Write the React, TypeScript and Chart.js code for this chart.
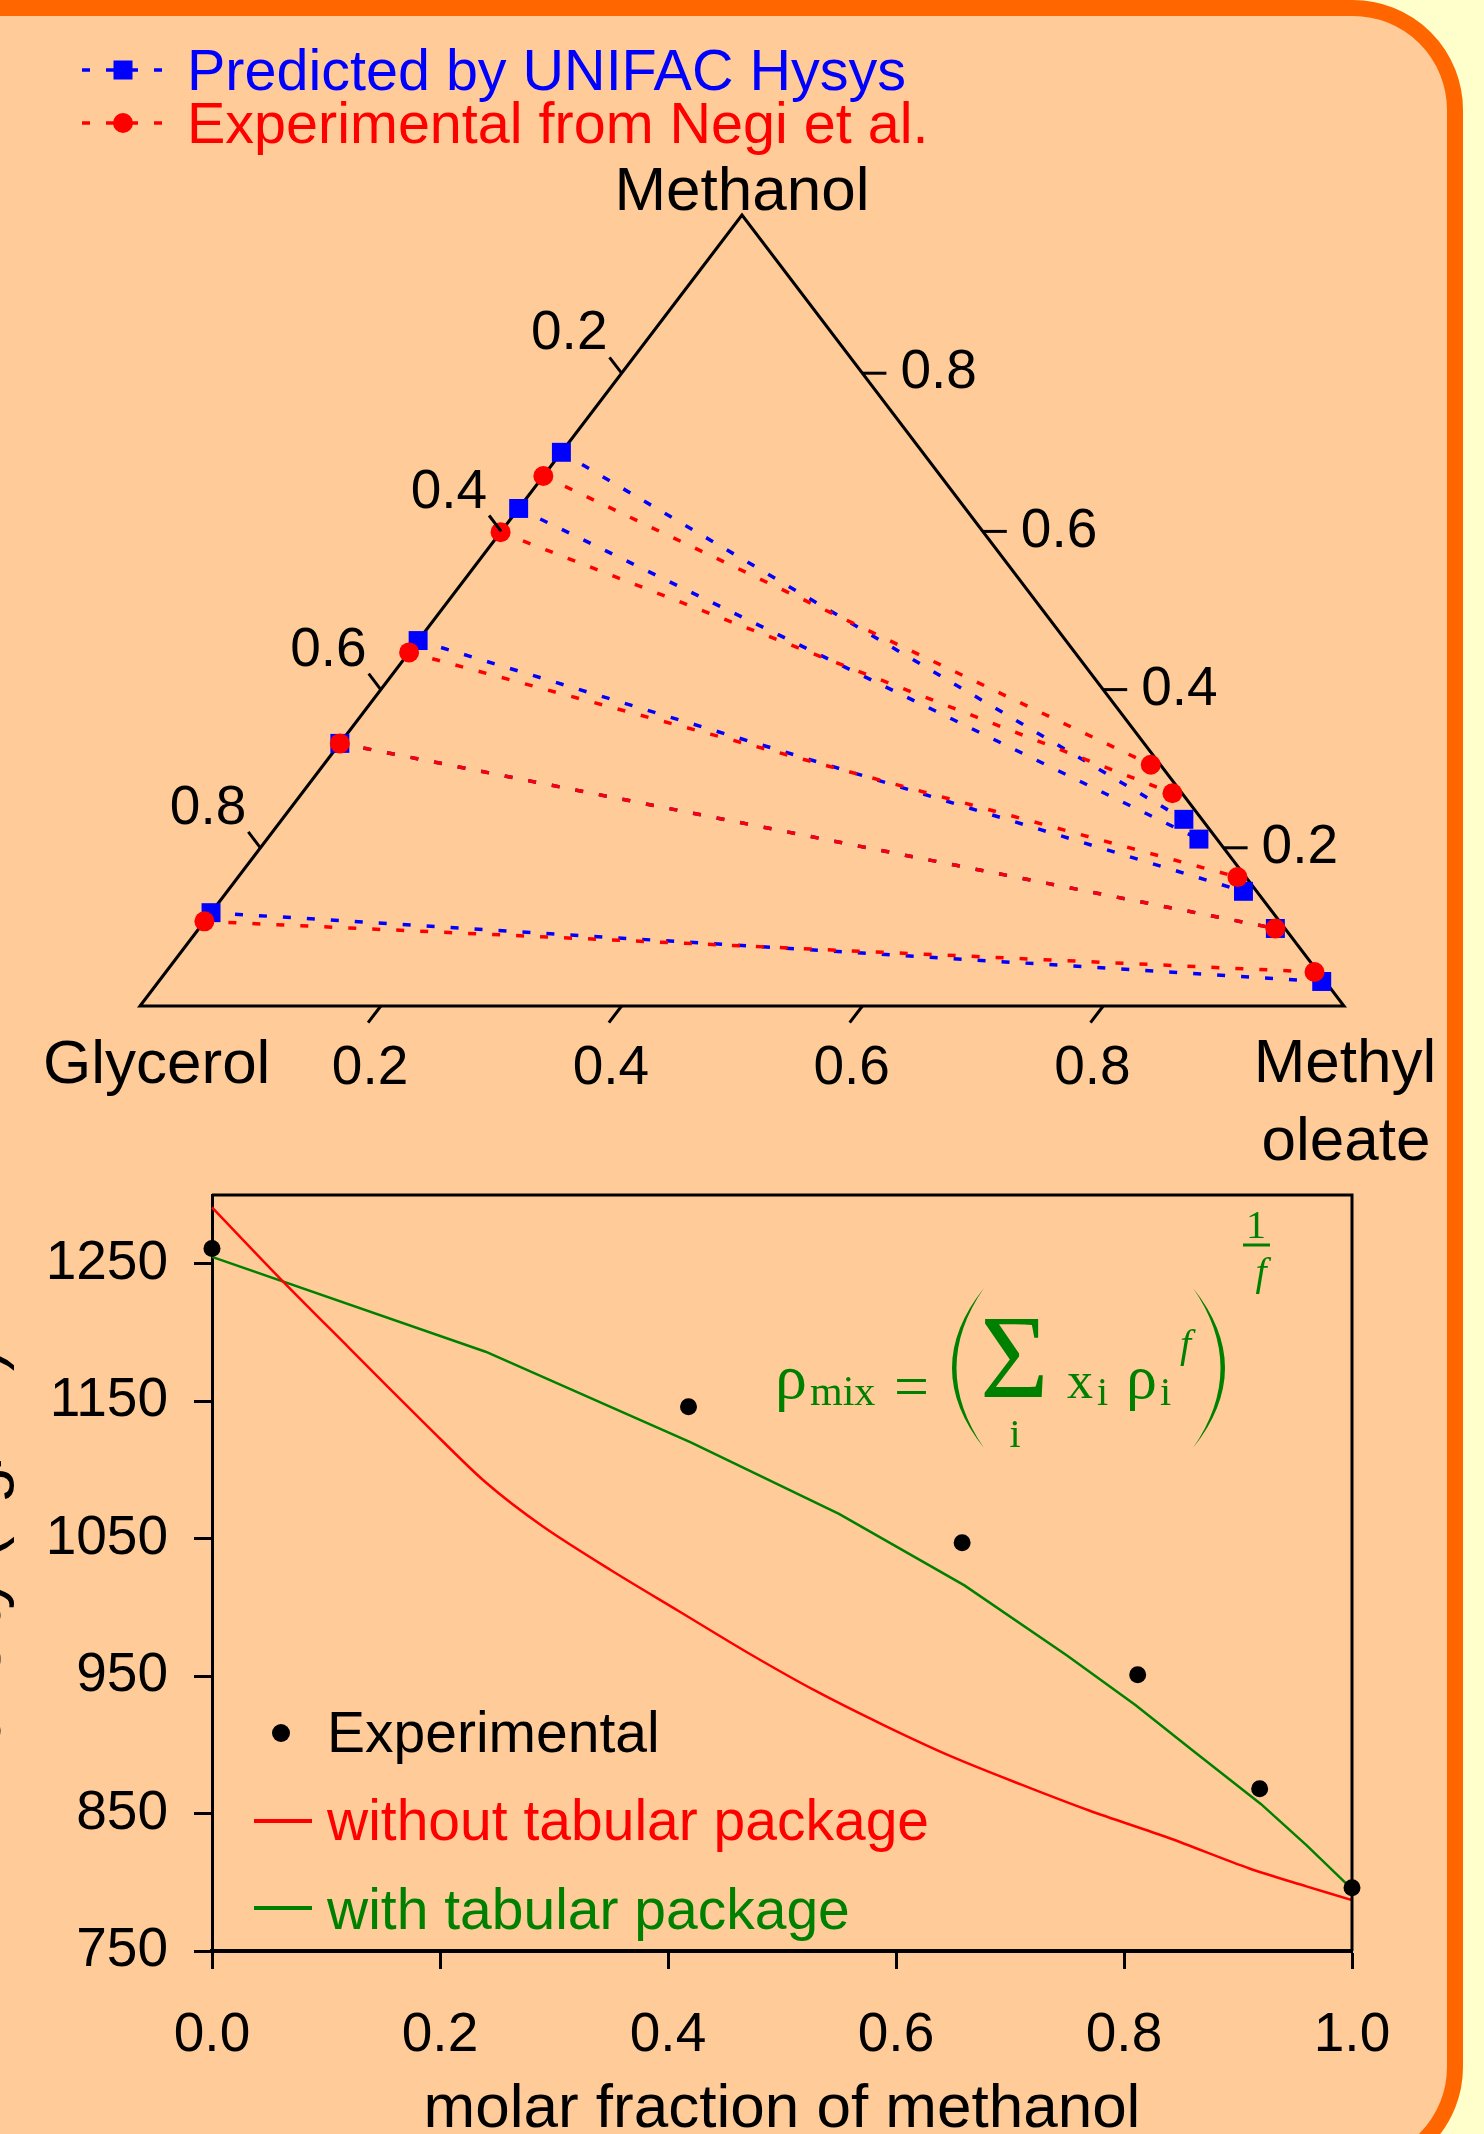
import React, { useEffect, useRef } from "react";
import { Chart, registerables } from "chart.js";

Chart.register(...registerables);

const SANS = '"Liberation Sans", Arial, Helvetica, sans-serif';
const SERIF = '"Liberation Serif", "Times New Roman", Times, serif';
const BLUE = "#0000FF";
const RED = "#FF0000";
const GREEN = "#008000";

// ---------- Ternary data (mole fractions; glycerol = 1 - methanol - methyl oleate) ----------
const hysysGlyPhaseMethanol = [0.7, 0.629, 0.462, 0.332, 0.118];
const hysysGlyPhaseOleate = [0, 0, 0, 0, 0];
const hysysEsterPhaseMethanol = [0.236, 0.211, 0.145, 0.098, 0.031];
const hysysEsterPhaseOleate = [0.749, 0.774, 0.844, 0.894, 0.966];

const negiGlyPhaseMethanol = [0.67, 0.599, 0.447, 0.332, 0.107];
const negiGlyPhaseOleate = [0, 0, 0, 0, 0];
const negiEsterPhaseMethanol = [0.305, 0.269, 0.163, 0.098, 0.043];
const negiEsterPhaseOleate = [0.687, 0.723, 0.83, 0.894, 0.954];

const ternaryTicks = [0.2, 0.4, 0.6, 0.8];
const ternaryLabels = ["Methanol", "Glycerol", "Methyl", "oleate"];
const ternarySeries = ["Predicted by UNIFAC Hysys", "Experimental from Negi et al."];

// ---------- Density data ----------
const expMethanol = [0, 0.418, 0.658, 0.812, 0.919, 1.0];
const expDensity = [1261, 1146, 1047, 951, 868, 796];

const noTabMethanol = [0, 0.06, 0.12, 0.19, 0.24, 0.29, 0.35, 0.41, 0.47, 0.53, 0.59, 0.65, 0.71, 0.77, 0.84, 0.91, 0.96, 1.0];
const noTabDensity = [1291, 1239, 1189, 1131, 1091, 1059, 1027, 997, 967, 939, 914, 891, 871, 852, 832, 810, 797, 787];

const tabMethanol = [0, 0.24, 0.42, 0.55, 0.66, 0.75, 0.81, 0.86, 0.92, 0.96, 1.0];
const tabDensity = [1255, 1186, 1120, 1068, 1016, 965, 929, 896, 857, 827, 795];

const densityTicks = [750, 850, 950, 1050, 1150, 1250];
const fractionTicks = [0, 0.2, 0.4, 0.6, 0.8, 1.0];
const densitySeries = ["Experimental", "without tabular package", "with tabular package"];

// ternary -> cartesian (x along bottom edge, y = methanol height)
const cart = (m: number, o: number) => ({ x: o + m / 2, y: m });

function tieDatasets(gM: number[], gO: number[], eM: number[], eO: number[], color: string, style: string, radius: number) {
  return gM.map((_, i) => ({
    data: [cart(gM[i], gO[i]), cart(eM[i], eO[i])],
    showLine: true,
    borderColor: color,
    borderWidth: 3.5,
    borderDash: [8, 16],
    pointStyle: style,
    pointRadius: radius,
    pointBackgroundColor: color,
    pointBorderWidth: 0,
    clip: false,
  }));
}

const ternaryDecor = {
  id: "ternaryDecor",
  afterDatasetsDraw(chart: any) {
    const ctx = chart.ctx;
    const xs = chart.scales.x;
    const ys = chart.scales.y;
    const P = (m: number, o: number) => ({ x: xs.getPixelForValue(o + m / 2), y: ys.getPixelForValue(m) });
    const A = P(1, 0);
    const G = P(0, 0);
    const O = P(0, 1);
    const unit = (a: any, b: any) => {
      const dx = b.x - a.x, dy = b.y - a.y, l = Math.hypot(dx, dy);
      return { x: dx / l, y: dy / l };
    };
    const upLeft = unit(O, A);
    const toRight = unit(G, O);
    const downLeft = unit(A, G);
    const seg = (p: any, e: any) => {
      ctx.beginPath();
      ctx.moveTo(p.x, p.y);
      ctx.lineTo(e.x, e.y);
      ctx.stroke();
    };
    ctx.save();
    ctx.strokeStyle = "#000";
    ctx.fillStyle = "#000";
    ctx.lineWidth = 3;
    ctx.setLineDash([]);
    ctx.font = `55px ${SANS}`;
    ternaryTicks.forEach((t) => {
      const lbl = t.toFixed(1);
      // left edge: glycerol fraction
      let p = P(1 - t, 0);
      let e = { x: p.x + upLeft.x * 20, y: p.y + upLeft.y * 20 };
      seg(p, e);
      ctx.textAlign = "right";
      ctx.textBaseline = "middle";
      ctx.fillText(lbl, e.x - 2, e.y - 23);
      // right edge: methanol fraction
      p = P(t, 1 - t);
      e = { x: p.x + toRight.x * 24, y: p.y + toRight.y * 24 };
      seg(p, e);
      ctx.textAlign = "left";
      ctx.fillText(lbl, e.x + 14, e.y);
      // bottom edge: methyl oleate fraction
      p = P(0, t);
      e = { x: p.x + downLeft.x * 21, y: p.y + downLeft.y * 21 };
      seg(p, e);
      ctx.textAlign = "center";
      ctx.fillText(lbl, e.x + 2, e.y + 46);
    });

    ctx.font = `62px ${SANS}`;
    ctx.textBaseline = "alphabetic";
    ctx.textAlign = "center";
    ctx.fillText(ternaryLabels[0], A.x, A.y - 5);
    ctx.textAlign = "left";
    ctx.fillText(ternaryLabels[1], G.x - 97, G.y + 77);
    ctx.textAlign = "center";
    ctx.fillText(ternaryLabels[2], O.x + 1, O.y + 76);
    ctx.fillText(ternaryLabels[3], O.x + 2, O.y + 154);

    // legend
    const rows = [
      { label: ternarySeries[0], color: BLUE, square: true, y: 70 },
      { label: ternarySeries[1], color: RED, square: false, y: 123 },
    ];
    rows.forEach((r) => {
      ctx.strokeStyle = r.color;
      ctx.fillStyle = r.color;
      ctx.lineWidth = 3.5;
      ctx.setLineDash([8, 16]);
      ctx.beginPath();
      ctx.moveTo(82, r.y);
      ctx.lineTo(162, r.y);
      ctx.stroke();
      ctx.setLineDash([]);
      if (r.square) {
        ctx.fillRect(123 - 9.5, r.y - 9.5, 19, 19);
      } else {
        ctx.beginPath();
        ctx.arc(123, r.y, 10, 0, Math.PI * 2);
        ctx.fill();
      }
      ctx.font = `57.5px ${SANS}`;
      ctx.textAlign = "left";
      ctx.textBaseline = "alphabetic";
      ctx.fillText(r.label, 187, r.y + 19.5);
    });
    ctx.restore();
  },
};

function paren(ctx: any, x0: number, y0: number, y1: number, dir: number) {
  // dir = -1 for left paren (bulges left), +1 for right paren
  const ym = (y0 + y1) / 2;
  ctx.beginPath();
  ctx.moveTo(x0, y0);
  ctx.quadraticCurveTo(x0 + dir * 64, ym, x0, y1);
  ctx.quadraticCurveTo(x0 + dir * 55, ym, x0, y0);
  ctx.closePath();
  ctx.fill();
}

const densityDecor = {
  id: "densityDecor",
  afterDraw(chart: any) {
    const ctx = chart.ctx;
    const a = chart.chartArea;
    ctx.save();
    // frame top & right
    ctx.strokeStyle = "#000";
    ctx.lineWidth = 3;
    ctx.beginPath();
    ctx.moveTo(a.left, a.top);
    ctx.lineTo(a.right, a.top);
    ctx.lineTo(a.right, a.bottom);
    ctx.stroke();

    // legend
    ctx.font = `57px ${SANS}`;
    ctx.textAlign = "left";
    ctx.textBaseline = "alphabetic";
    ctx.fillStyle = "#000";
    ctx.beginPath();
    ctx.arc(281, 573, 9, 0, Math.PI * 2);
    ctx.fill();
    ctx.fillText(densitySeries[0], 327, 592);
    ctx.lineWidth = 4;
    ctx.strokeStyle = RED;
    ctx.beginPath();
    ctx.moveTo(254, 661);
    ctx.lineTo(312, 661);
    ctx.stroke();
    ctx.fillStyle = RED;
    ctx.fillText(densitySeries[1], 327, 680);
    ctx.strokeStyle = GREEN;
    ctx.beginPath();
    ctx.moveTo(254, 748);
    ctx.lineTo(312, 748);
    ctx.stroke();
    ctx.fillStyle = GREEN;
    ctx.fillText(densitySeries[2], 327, 769);

    // formula
    ctx.fillStyle = GREEN;
    ctx.strokeStyle = GREEN;
    const t = (s: string, x: number, y: number, font: string, align = "left") => {
      ctx.font = font;
      ctx.textAlign = align;
      ctx.fillText(s, x, y);
    };
    t("ρ", 775, 238, `64px ${SERIF}`);
    t("mix", 810, 245, `42px ${SERIF}`);
    t("=", 894, 247, `62px ${SERIF}`);
    paren(ctx, 984, 128, 288, -1);
    t("Σ", 980, 237, `118px ${SERIF}`);
    t("i", 1015, 287, `40px ${SERIF}`, "center");
    t("x", 1067, 238, `52px ${SERIF}`);
    t("i", 1097, 245, `40px ${SERIF}`);
    t("ρ", 1126, 238, `62px ${SERIF}`);
    t("i", 1160, 245, `40px ${SERIF}`);
    t("f", 1180, 197, `italic 40px ${SERIF}`);
    paren(ctx, 1193, 128, 288, 1);
    t("1", 1256, 78, `40px ${SERIF}`, "center");
    ctx.lineWidth = 3;
    ctx.beginPath();
    ctx.moveTo(1243, 85);
    ctx.lineTo(1270, 85);
    ctx.stroke();
    t("f", 1261, 125, `italic 40px ${SERIF}`, "center");
    ctx.restore();
  },
};

export default function App() {
  const topRef = useRef<HTMLCanvasElement>(null);
  const botRef = useRef<HTMLCanvasElement>(null);

  useEffect(() => {
    const triangle = {
      data: [cart(1, 0), cart(0, 0), cart(0, 1), cart(1, 0), cart(0, 0)],
      showLine: true,
      borderColor: "#000",
      borderWidth: 3,
      borderJoinStyle: "miter",
      pointRadius: 0,
      clip: false,
    };
    const ternary = new Chart(topRef.current as any, {
      type: "scatter",
      data: {
        datasets: [
          ...tieDatasets(negiGlyPhaseMethanol, negiGlyPhaseOleate, negiEsterPhaseMethanol, negiEsterPhaseOleate, RED, "circle", 10),
          ...tieDatasets(hysysGlyPhaseMethanol, hysysGlyPhaseOleate, hysysEsterPhaseMethanol, hysysEsterPhaseOleate, BLUE, "rect", 13.4),
          triangle,
        ] as any,
      },
      options: {
        animation: false,
        responsive: false,
        devicePixelRatio: 1,
        events: [],
        layout: { padding: { left: 140, right: 96, top: 215, bottom: 174 } },
        scales: {
          x: { type: "linear", min: 0, max: 1, display: false },
          y: { type: "linear", min: 0, max: 1, display: false },
        },
        plugins: { legend: { display: false }, tooltip: { enabled: false } },
      } as any,
      plugins: [ternaryDecor as any],
    });

    const zeroPad = (s: any) => {
      s.paddingTop = 0;
      s.paddingBottom = 0;
      s.paddingLeft = 0;
      s.paddingRight = 0;
    };

    const density = new Chart(botRef.current as any, {
      type: "scatter",
      data: {
        datasets: [
          {
            label: densitySeries[0],
            data: expMethanol.map((x, i) => ({ x, y: expDensity[i] })),
            pointRadius: 8.5,
            pointBackgroundColor: "#000",
            pointBorderWidth: 0,
            showLine: false,
            clip: false,
          },
          {
            label: densitySeries[1],
            data: noTabMethanol.map((x, i) => ({ x, y: noTabDensity[i] })),
            showLine: true,
            borderColor: RED,
            borderWidth: 2.5,
            pointRadius: 0,
            tension: 0.3,
            clip: false,
          },
          {
            label: densitySeries[2],
            data: tabMethanol.map((x, i) => ({ x, y: tabDensity[i] })),
            showLine: true,
            borderColor: GREEN,
            borderWidth: 2.5,
            pointRadius: 0,
            clip: false,
          },
        ] as any,
      },
      options: {
        animation: false,
        responsive: false,
        devicePixelRatio: 1,
        events: [],
        layout: { padding: { left: 0, right: 88, top: 35, bottom: 0 } },
        scales: {
          x: {
            type: "linear",
            min: 0,
            max: 1,
            afterFit: (s: any) => {
              s.height = 183;
              zeroPad(s);
            },
            afterBuildTicks: (s: any) => {
              s.ticks = fractionTicks.map((v) => ({ value: v }));
            },
            ticks: {
              callback: (v: any) => Number(v).toFixed(1),
              font: { family: SANS, size: 55 },
              color: "#000",
              padding: 34,
              maxRotation: 0,
              autoSkip: false,
            },
            grid: { drawOnChartArea: false, drawTicks: true, tickLength: 18, tickWidth: 3, tickColor: "#000" },
            border: { display: true, color: "#000", width: 4 },
            title: {
              display: true,
              text: "molar fraction of methanol",
              font: { family: SANS, size: 62 },
              color: "#000",
              padding: { top: 0, bottom: -13 },
            },
          },
          y: {
            type: "linear",
            min: 750,
            max: 1300,
            afterFit: (s: any) => {
              s.width = 212;
              zeroPad(s);
            },
            afterBuildTicks: (s: any) => {
              s.ticks = densityTicks.map((v) => ({ value: v }));
            },
            ticks: {
              callback: (v: any) => String(v),
              font: { family: SANS, size: 55 },
              color: "#000",
              padding: 26,
              autoSkip: false,
            },
            grid: { drawOnChartArea: false, drawTicks: true, tickLength: 18, tickWidth: 3, tickColor: "#000" },
            border: { display: true, color: "#000", width: 3 },
            title: {
              display: true,
              text: "Density (kg/m³)",
              font: { family: SANS, size: 66 },
              color: "#000",
              padding: { top: -57.5, bottom: 0 },
            },
          },
        },
        plugins: { legend: { display: false }, tooltip: { enabled: false } },
      } as any,
      plugins: [densityDecor as any],
    });

    return () => {
      ternary.destroy();
      density.destroy();
    };
  }, []);

  return (
    <div
      style={{
        position: "absolute",
        left: 0,
        top: 0,
        width: 1484,
        height: 2134,
        overflow: "hidden",
        background: "#FFFFCC",
      }}
    >
      <div
        style={{
          position: "absolute",
          left: -300,
          top: 0,
          width: 1763,
          height: 2177,
          boxSizing: "border-box",
          border: "16px solid #FF6600",
          borderRadius: 110,
          background: "#FFCC99",
        }}
      />
      <canvas
        ref={topRef}
        width={1440}
        height={1180}
        style={{ position: "absolute", left: 0, top: 0, width: 1440, height: 1180 }}
      />
      <canvas
        ref={botRef}
        width={1440}
        height={974}
        style={{ position: "absolute", left: 0, top: 1160, width: 1440, height: 974 }}
      />
    </div>
  );
}
